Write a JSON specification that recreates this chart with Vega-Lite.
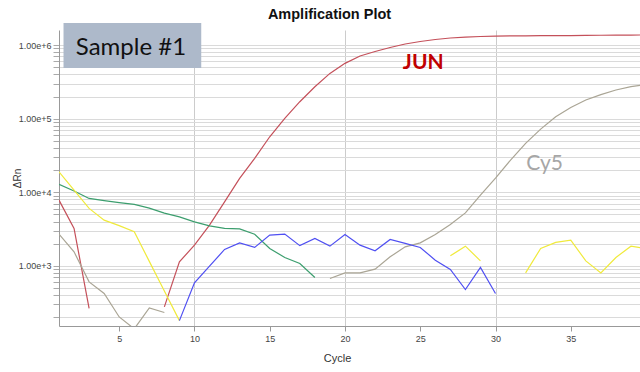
{
  "$schema": "https://vega.github.io/schema/vega-lite/v6.json",
  "width": 581,
  "height": 296,
  "autosize": {"type": "none"},
  "padding": {"left": 59, "top": 30, "right": 0, "bottom": 46},
  "background": "white",
  "title": {
    "text": "Amplification Plot",
    "anchor": "middle",
    "frame": "group",
    "dx": -20,
    "dy": 19,
    "baseline": "alphabetic",
    "offset": 9,
    "font": "Liberation Sans",
    "fontSize": 14.5,
    "fontWeight": "bold",
    "color": "#111111"
  },
  "config": {
    "view": {"stroke": null},
    "axis": {"labelFont": "Liberation Sans", "titleFont": "Liberation Sans"}
  },
  "layer": [
    {
      "data": {
        "values": [
          {"d": "JUN", "s": "JUN1", "c": 1, "v": 7830},
          {"d": "JUN", "s": "JUN1", "c": 2, "v": 3236},
          {"d": "JUN", "s": "JUN1", "c": 3, "v": 265},
          {"d": "JUN", "s": "JUN2", "c": 8, "v": 278},
          {"d": "JUN", "s": "JUN2", "c": 9, "v": 1137},
          {"d": "JUN", "s": "JUN2", "c": 10, "v": 1918},
          {"d": "JUN", "s": "JUN2", "c": 11, "v": 3581},
          {"d": "JUN", "s": "JUN2", "c": 12, "v": 7430},
          {"d": "JUN", "s": "JUN2", "c": 13, "v": 15450},
          {"d": "JUN", "s": "JUN2", "c": 14, "v": 28900},
          {"d": "JUN", "s": "JUN2", "c": 15, "v": 56800},
          {"d": "JUN", "s": "JUN2", "c": 16, "v": 101000},
          {"d": "JUN", "s": "JUN2", "c": 17, "v": 170000},
          {"d": "JUN", "s": "JUN2", "c": 18, "v": 271000},
          {"d": "JUN", "s": "JUN2", "c": 19, "v": 412000},
          {"d": "JUN", "s": "JUN2", "c": 20, "v": 564000},
          {"d": "JUN", "s": "JUN2", "c": 21, "v": 709000},
          {"d": "JUN", "s": "JUN2", "c": 22, "v": 816000},
          {"d": "JUN", "s": "JUN2", "c": 23, "v": 925000},
          {"d": "JUN", "s": "JUN2", "c": 24, "v": 1032000},
          {"d": "JUN", "s": "JUN2", "c": 25, "v": 1116000},
          {"d": "JUN", "s": "JUN2", "c": 26, "v": 1188000},
          {"d": "JUN", "s": "JUN2", "c": 27, "v": 1245000},
          {"d": "JUN", "s": "JUN2", "c": 28, "v": 1284000},
          {"d": "JUN", "s": "JUN2", "c": 29, "v": 1305000},
          {"d": "JUN", "s": "JUN2", "c": 30, "v": 1325000},
          {"d": "JUN", "s": "JUN2", "c": 31, "v": 1330000},
          {"d": "JUN", "s": "JUN2", "c": 32, "v": 1334000},
          {"d": "JUN", "s": "JUN2", "c": 33, "v": 1338000},
          {"d": "JUN", "s": "JUN2", "c": 34, "v": 1342000},
          {"d": "JUN", "s": "JUN2", "c": 35, "v": 1346000},
          {"d": "JUN", "s": "JUN2", "c": 36, "v": 1350000},
          {"d": "JUN", "s": "JUN2", "c": 37, "v": 1358000},
          {"d": "JUN", "s": "JUN2", "c": 38, "v": 1360000},
          {"d": "JUN", "s": "JUN2", "c": 39, "v": 1367000},
          {"d": "JUN", "s": "JUN2", "c": 40, "v": 1370000},

          {"d": "Cy5", "s": "Cy51", "c": 1, "v": 2704},
          {"d": "Cy5", "s": "Cy51", "c": 2, "v": 1555},
          {"d": "Cy5", "s": "Cy51", "c": 3, "v": 608},
          {"d": "Cy5", "s": "Cy51", "c": 4, "v": 423},
          {"d": "Cy5", "s": "Cy51", "c": 5, "v": 203},
          {"d": "Cy5", "s": "Cy51", "c": 6, "v": 140},
          {"d": "Cy5", "s": "Cy51", "c": 7, "v": 270},
          {"d": "Cy5", "s": "Cy51", "c": 8, "v": 233},
          {"d": "Cy5", "s": "Cy52", "c": 19, "v": 676},
          {"d": "Cy5", "s": "Cy52", "c": 20, "v": 806},
          {"d": "Cy5", "s": "Cy52", "c": 21, "v": 806},
          {"d": "Cy5", "s": "Cy52", "c": 22, "v": 905},
          {"d": "Cy5", "s": "Cy52", "c": 23, "v": 1330},
          {"d": "Cy5", "s": "Cy52", "c": 24, "v": 1820},
          {"d": "Cy5", "s": "Cy52", "c": 25, "v": 2060},
          {"d": "Cy5", "s": "Cy52", "c": 26, "v": 2680},
          {"d": "Cy5", "s": "Cy52", "c": 27, "v": 3660},
          {"d": "Cy5", "s": "Cy52", "c": 28, "v": 5260},
          {"d": "Cy5", "s": "Cy52", "c": 29, "v": 9160},
          {"d": "Cy5", "s": "Cy52", "c": 30, "v": 15600},
          {"d": "Cy5", "s": "Cy52", "c": 31, "v": 27400},
          {"d": "Cy5", "s": "Cy52", "c": 32, "v": 46200},
          {"d": "Cy5", "s": "Cy52", "c": 33, "v": 72200},
          {"d": "Cy5", "s": "Cy52", "c": 34, "v": 106000},
          {"d": "Cy5", "s": "Cy52", "c": 35, "v": 141500},
          {"d": "Cy5", "s": "Cy52", "c": 36, "v": 179000},
          {"d": "Cy5", "s": "Cy52", "c": 37, "v": 212500},
          {"d": "Cy5", "s": "Cy52", "c": 38, "v": 245000},
          {"d": "Cy5", "s": "Cy52", "c": 39, "v": 273000},
          {"d": "Cy5", "s": "Cy52", "c": 40, "v": 290600},

          {"d": "Green", "s": "G1", "c": 1, "v": 12800},
          {"d": "Green", "s": "G1", "c": 2, "v": 10400},
          {"d": "Green", "s": "G1", "c": 3, "v": 8260},
          {"d": "Green", "s": "G1", "c": 4, "v": 7710},
          {"d": "Green", "s": "G1", "c": 5, "v": 7240},
          {"d": "Green", "s": "G1", "c": 6, "v": 6850},
          {"d": "Green", "s": "G1", "c": 7, "v": 6100},
          {"d": "Green", "s": "G1", "c": 8, "v": 5210},
          {"d": "Green", "s": "G1", "c": 9, "v": 4640},
          {"d": "Green", "s": "G1", "c": 10, "v": 3970},
          {"d": "Green", "s": "G1", "c": 11, "v": 3500},
          {"d": "Green", "s": "G1", "c": 12, "v": 3235},
          {"d": "Green", "s": "G1", "c": 13, "v": 3190},
          {"d": "Green", "s": "G1", "c": 14, "v": 2700},
          {"d": "Green", "s": "G1", "c": 15, "v": 1728},
          {"d": "Green", "s": "G1", "c": 16, "v": 1304},
          {"d": "Green", "s": "G1", "c": 17, "v": 1081},
          {"d": "Green", "s": "G1", "c": 18, "v": 698},

          {"d": "Yellow", "s": "Y1", "c": 1, "v": 19000},
          {"d": "Yellow", "s": "Y1", "c": 2, "v": 10700},
          {"d": "Yellow", "s": "Y1", "c": 3, "v": 6040},
          {"d": "Yellow", "s": "Y1", "c": 4, "v": 4190},
          {"d": "Yellow", "s": "Y1", "c": 5, "v": 3530},
          {"d": "Yellow", "s": "Y1", "c": 6, "v": 2925},
          {"d": "Yellow", "s": "Y1", "c": 7, "v": 1154},
          {"d": "Yellow", "s": "Y1", "c": 8, "v": 457},
          {"d": "Yellow", "s": "Y1", "c": 9, "v": 181},
          {"d": "Yellow", "s": "Y2", "c": 27, "v": 1371},
          {"d": "Yellow", "s": "Y2", "c": 28, "v": 1858},
          {"d": "Yellow", "s": "Y2", "c": 29, "v": 1173},
          {"d": "Yellow", "s": "Y3", "c": 32, "v": 806},
          {"d": "Yellow", "s": "Y3", "c": 33, "v": 1729},
          {"d": "Yellow", "s": "Y3", "c": 34, "v": 2086},
          {"d": "Yellow", "s": "Y3", "c": 35, "v": 2243},
          {"d": "Yellow", "s": "Y3", "c": 36, "v": 1173},
          {"d": "Yellow", "s": "Y3", "c": 37, "v": 806},
          {"d": "Yellow", "s": "Y3", "c": 38, "v": 1304},
          {"d": "Yellow", "s": "Y3", "c": 39, "v": 1858},
          {"d": "Yellow", "s": "Y3", "c": 40, "v": 1718},

          {"d": "Blue", "s": "B1", "c": 9, "v": 181},
          {"d": "Blue", "s": "B1", "c": 10, "v": 589},
          {"d": "Blue", "s": "B1", "c": 11, "v": 994},
          {"d": "Blue", "s": "B1", "c": 12, "v": 1675},
          {"d": "Blue", "s": "B1", "c": 13, "v": 2060},
          {"d": "Blue", "s": "B1", "c": 14, "v": 1784},
          {"d": "Blue", "s": "B1", "c": 15, "v": 2620},
          {"d": "Blue", "s": "B1", "c": 16, "v": 2704},
          {"d": "Blue", "s": "B1", "c": 17, "v": 1888},
          {"d": "Blue", "s": "B1", "c": 18, "v": 2366},
          {"d": "Blue", "s": "B1", "c": 19, "v": 1858},
          {"d": "Blue", "s": "B1", "c": 20, "v": 2679},
          {"d": "Blue", "s": "B1", "c": 21, "v": 1918},
          {"d": "Blue", "s": "B1", "c": 22, "v": 1604},
          {"d": "Blue", "s": "B1", "c": 23, "v": 2291},
          {"d": "Blue", "s": "B1", "c": 24, "v": 2022},
          {"d": "Blue", "s": "B1", "c": 25, "v": 1784},
          {"d": "Blue", "s": "B1", "c": 26, "v": 1199},
          {"d": "Blue", "s": "B1", "c": 27, "v": 896},
          {"d": "Blue", "s": "B1", "c": 28, "v": 479},
          {"d": "Blue", "s": "B1", "c": 29, "v": 954},
          {"d": "Blue", "s": "B1", "c": 30, "v": 423}
        ]
      },
      "mark": {"type": "line", "strokeWidth": 1.2, "clip": true},
      "encoding": {
        "x": {
          "field": "c",
          "type": "quantitative",
          "scale": {"domain": [1, 39.6], "nice": false, "zero": false},
          "axis": {
            "values": [5, 10, 15, 20, 25, 30, 35],
            "title": "Cycle",
            "titleFontSize": 11,
            "titleFontWeight": "normal",
            "titleColor": "#333333",
            "titleX": 278,
            "titleY": 35,
            "titleAlign": "center",
            "titleBaseline": "alphabetic",
            "labelFontSize": 9,
            "labelColor": "#444444",
            "labelPadding": 3,
            "tickSize": 5,
            "tickColor": "#999999",
            "domainColor": "#999999",
            "grid": true,
            "gridColor": {"condition": {"test": "datum.value % 10 === 0", "value": "#cccccc"}, "value": "transparent"},
            "gridWidth": 1
          }
        },
        "y": {
          "field": "v",
          "type": "quantitative",
          "scale": {"type": "log", "domain": [153, 1600000], "nice": false},
          "axis": {
            "values": [200, 300, 400, 500, 600, 700, 800, 900, 1000, 2000, 3000, 4000, 5000, 6000, 7000, 8000, 9000, 10000, 20000, 30000, 40000, 50000, 60000, 70000, 80000, 90000, 100000, 200000, 300000, 400000, 500000, 600000, 700000, 800000, 900000, 1000000],
            "format": ".2e",
            "labelExpr": "indexof([1000, 10000, 100000, 1000000], datum.value) >= 0 ? datum.label : ''",
            "labelOverlap": false,
            "labelFontSize": 9,
            "labelColor": "#444444",
            "labelPadding": 2,
            "tickSize": 6,
            "tickColor": "#aaaaaa",
            "domainColor": "#999999",
            "grid": true,
            "gridColor": "#dadada",
            "gridWidth": 1,
            "title": "ΔRn",
            "titleFontSize": 10,
            "titleFontWeight": "normal",
            "titleColor": "#333333",
            "titleX": -41.5,
            "titleY": 148,
            "titleAlign": "center",
            "titleBaseline": "middle",
            "titleAngle": 270
          }
        },
        "color": {
          "field": "d",
          "type": "nominal",
          "scale": {
            "domain": ["JUN", "Cy5", "Green", "Yellow", "Blue"],
            "range": ["#c4505a", "#aaa595", "#3c9e6e", "#f0ea3c", "#4f4ff2"]
          },
          "legend": null
        },
        "detail": {"field": "s", "type": "nominal"}
      }
    },
    {
      "data": {"values": [{"x1": 1.3, "x2": 10.45, "y1": 1990000, "y2": 487000}]},
      "mark": {"type": "rect", "color": "#adb9ca", "clip": false},
      "encoding": {
        "x": {"field": "x1", "type": "quantitative"},
        "x2": {"field": "x2"},
        "y": {"field": "y1", "type": "quantitative"},
        "y2": {"field": "y2"}
      }
    },
    {
      "data": {"values": [{"label": "Sample #1", "x": 5.78, "y": 731000}]},
      "mark": {"type": "text", "font": "Lato", "fontSize": 24, "color": "#111111", "baseline": "alphabetic", "align": "center", "clip": false},
      "encoding": {
        "x": {"field": "x", "type": "quantitative"},
        "y": {"field": "y", "type": "quantitative"},
        "text": {"field": "label"}
      }
    },
    {
      "data": {"values": [{"label": "JUN", "x": 25.2, "y": 468000}]},
      "mark": {"type": "text", "font": "Lato", "fontSize": 21, "fontWeight": "bold", "color": "#c00000", "baseline": "alphabetic", "align": "center", "clip": false},
      "encoding": {
        "x": {"field": "x", "type": "quantitative"},
        "y": {"field": "y", "type": "quantitative"},
        "text": {"field": "label"}
      }
    },
    {
      "data": {"values": [{"label": "Cy5", "x": 33.26, "y": 20050}]},
      "mark": {"type": "text", "font": "Lato", "fontSize": 21, "color": "#a6a6a6", "baseline": "alphabetic", "align": "center", "clip": false},
      "encoding": {
        "x": {"field": "x", "type": "quantitative"},
        "y": {"field": "y", "type": "quantitative"},
        "text": {"field": "label"}
      }
    }
  ]
}
